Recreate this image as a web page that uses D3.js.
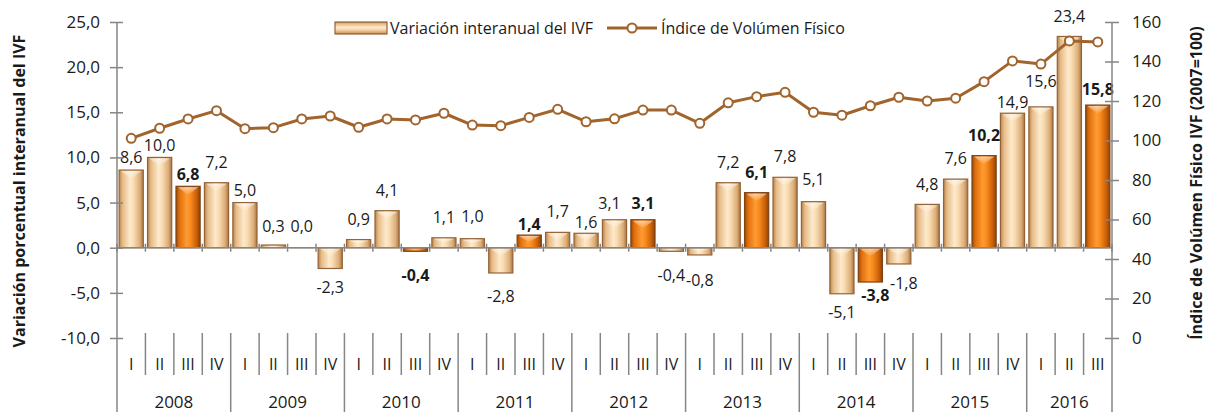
<!DOCTYPE html>
<html>
<head>
<meta charset="utf-8">
<script src="https://cdn.jsdelivr.net/npm/d3@7"></script>
<style>
  body { margin: 0; background: #fff; }
  svg { display: block; font-family: "Open Sans", sans-serif; }
</style>
</head>
<body>
<svg id="chart" width="1211" height="412"></svg>
<script>
// quarters 2008 I .. 2016 III
const periods = [
  "2008 I", "2008 II", "2008 III", "2008 IV",
  "2009 I", "2009 II", "2009 III", "2009 IV",
  "2010 I", "2010 II", "2010 III", "2010 IV",
  "2011 I", "2011 II", "2011 III", "2011 IV",
  "2012 I", "2012 II", "2012 III", "2012 IV",
  "2013 I", "2013 II", "2013 III", "2013 IV",
  "2014 I", "2014 II", "2014 III", "2014 IV",
  "2015 I", "2015 II", "2015 III", "2015 IV",
  "2016 I", "2016 II", "2016 III"
];
const years = ["2008", "2009", "2010", "2011", "2012", "2013", "2014", "2015", "2016"];

// variacion interanual (%)
const variacion = [
  8.6, 10.0, 6.8, 7.2,
  5.0, 0.3, 0.0, -2.3,
  0.9, 4.1, -0.4, 1.1,
  1.0, -2.8, 1.4, 1.7,
  1.6, 3.1, 3.1, -0.4,
  -0.8, 7.2, 6.1, 7.8,
  5.1, -5.1, -3.8, -1.8,
  4.8, 7.6, 10.2, 14.9,
  15.6, 23.4, 15.8
];

// indice de volumen fisico (2007=100)
const ivf = [
  101.1, 106.2, 110.9, 115.1,
  106.0, 106.5, 110.9, 112.4,
  106.7, 110.9, 110.4, 113.8,
  107.8, 107.5, 111.7, 115.8,
  109.5, 111.0, 115.4, 115.4,
  108.7, 119.1, 122.2, 124.4,
  114.3, 112.8, 117.6, 121.9,
  120.0, 121.4, 129.8, 140.3,
  138.7, 150.4, 149.9
];

const leftTicks = [-10, -5, 0, 5, 10, 15, 20, 25];
const rightTicks = [0, 20, 40, 60, 80, 100, 120, 140, 160];

// hand placed data labels, like in the original sheet: index -> [dx, dy]
const labelNudge = {
  0: [0, 8], 1: [0, 9], 2: [0, 9], 4: [0, 8], 5: [0, 2], 6: [0, -1],
  10: [0, 5], 12: [0, -2], 13: [0, 4], 14: [0, 10], 16: [0, 10],
  17: [-5, 4], 18: [0, 4], 19: [0, 5], 20: [0, 6], 24: [0, -2],
  25: [0, -1], 26: [5, -6], 27: [5, 0], 28: [0, 1], 31: [0, 10],
  32: [0, -5], 33: [0, 1], 34: [0, 5]
};

const svg = d3.select("#chart");
const AXIS = "#868686";
const LINE = "#a0642c";
const TEXT = "#1a1a1a";

const plotL = 117, plotR = 1112, plotT = 22, plotB = 338;

const x = d3.scaleBand()
  .domain(d3.range(periods.length))
  .range([plotL, plotR])
  .paddingInner(0.15)
  .paddingOuter(0.075);

const yL = d3.scaleLinear().domain([-10, 25]).range([plotB, plotT]);
const yR = d3.scaleLinear().domain([0, 160]).range([plotB, plotT]);

// excel style: comma decimals, plain hyphen for negatives
const fmt = v => d3.format(".1f")(v).replace(".", ",").replace("\u2212", "-");
const isIII = i => periods[i].split(" ")[1] === "III";
const hot = (d, i) => isIII(i) && d !== 0;

// gradients for the bevelled bars
const defs = svg.append("defs");
function grad(id, stops, vertical) {
  const g = defs.append("linearGradient").attr("id", id)
    .attr("x1", 0).attr("y1", 0)
    .attr("x2", vertical ? 0 : 1).attr("y2", vertical ? 1 : 0);
  stops.forEach(s => g.append("stop").attr("offset", s[0]).attr("stop-color", s[1]));
}
const lightStops = [[0, "#b8834e"], [0.14, "#e6bb87"], [0.45, "#fde9cb"], [0.6, "#f8dcb3"], [0.86, "#dcad77"], [1, "#a87545"]];
const orangeStops = [[0, "#9c4b04"], [0.15, "#e2700c"], [0.45, "#ff9b32"], [0.6, "#f88b1d"], [0.86, "#c85e08"], [1, "#8c4303"]];
grad("gLight", lightStops, false);
grad("gOrange", orangeStops, false);
grad("gLegend", lightStops, true);
// top bevel highlight
const bev = defs.append("linearGradient").attr("id", "gBevel").attr("x1", 0).attr("y1", 0).attr("x2", 0).attr("y2", 1);
bev.append("stop").attr("offset", 0).attr("stop-color", "#fff").attr("stop-opacity", 0.55);
bev.append("stop").attr("offset", 1).attr("stop-color", "#fff").attr("stop-opacity", 0);

// bars
const bars = svg.append("g");
bars.selectAll("rect.bar")
  .data(variacion)
  .join("rect")
  .attr("class", "bar")
  .attr("x", (d, i) => x(i))
  .attr("width", x.bandwidth())
  .attr("y", d => yL(Math.max(0, d)))
  .attr("height", d => Math.max(Math.abs(yL(d) - yL(0)), 0.01))
  .attr("fill", (d, i) => hot(d, i) ? "url(#gOrange)" : "url(#gLight)")
  .attr("stroke", (d, i) => hot(d, i) ? "#7d4418" : "#946438")
  .attr("stroke-width", 1.2);

bars.selectAll("path.bevel")
  .data(variacion)
  .join("path")
  .attr("class", "bevel")
  .attr("fill", "url(#gBevel)")
  .attr("d", (d, i) => {
    const x0 = x(i) + 2, x1 = x(i) + x.bandwidth() - 2;
    const h = Math.abs(yL(d) - yL(0));
    const b = Math.min(8, h / 2);
    const y0 = yL(Math.max(0, d)) + 1;
    const xm = (x0 + x1) / 2;
    return `M${x0},${y0}L${x1},${y0}L${xm},${y0 + b}Z`;
  });

// zero line with category ticks
const zero = svg.append("g").attr("stroke", AXIS).attr("stroke-width", 1.5);
zero.append("line").attr("x1", plotL).attr("x2", plotR).attr("y1", yL(0)).attr("y2", yL(0));
const bounds = d3.range(periods.length + 1).map(i => plotL + i * x.step());
zero.selectAll("line.zt").data(bounds).join("line").attr("class", "zt")
  .attr("x1", d => d).attr("x2", d => d)
  .attr("y1", yL(0) - 4).attr("y2", yL(0) + 4);

// bar labels
svg.append("g").selectAll("text")
  .data(variacion)
  .join("text")
  .attr("x", (d, i) => x(i) + x.bandwidth() / 2 + (labelNudge[i] ? labelNudge[i][0] : 0))
  .attr("y", (d, i) => {
    const n = labelNudge[i] ? labelNudge[i][1] : 0;
    return (d >= 0 ? yL(d) - 15 : yL(d) + 25) + n;
  })
  .attr("text-anchor", "middle")
  .attr("font-size", 16)
  .attr("font-weight", (d, i) => hot(d, i) ? "bold" : "normal")
  .attr("fill", TEXT)
  .text(fmt);

// IVF line
const line = d3.line()
  .x((d, i) => x(i) + x.bandwidth() / 2)
  .y(d => yR(d));
svg.append("path")
  .datum(ivf)
  .attr("d", line)
  .attr("fill", "none")
  .attr("stroke", LINE)
  .attr("stroke-width", 3)
  .attr("stroke-linejoin", "round");
svg.append("g").selectAll("circle")
  .data(ivf)
  .join("circle")
  .attr("cx", (d, i) => x(i) + x.bandwidth() / 2)
  .attr("cy", d => yR(d))
  .attr("r", 4.5)
  .attr("fill", "#fff")
  .attr("stroke", LINE)
  .attr("stroke-width", 2);

// left axis
const gL = svg.append("g").attr("transform", `translate(${plotL},0)`)
  .call(d3.axisLeft(yL).tickValues(leftTicks).tickFormat(fmt).tickSize(7).tickPadding(10));
gL.select(".domain").remove();
gL.selectAll(".tick line").attr("x1", -7).attr("x2", 6).attr("stroke", AXIS).attr("stroke-width", 1.5);
gL.selectAll(".tick text").attr("font-size", 17).attr("fill", TEXT).attr("font-family", "Open Sans");

// right axis
const gR = svg.append("g").attr("transform", `translate(${plotR},0)`)
  .call(d3.axisRight(yR).tickValues(rightTicks).tickSize(7).tickPadding(13));
gR.select(".domain").remove();
gR.selectAll(".tick line").attr("x1", -7).attr("x2", 7).attr("stroke", AXIS).attr("stroke-width", 1.5);
gR.selectAll(".tick text").attr("font-size", 17).attr("fill", TEXT).attr("font-family", "Open Sans");

// axis lines run down through the category area
const axl = svg.append("g").attr("stroke", AXIS).attr("stroke-width", 1.5);
axl.append("line").attr("x1", plotL).attr("x2", plotL).attr("y1", plotT).attr("y2", 412);
axl.append("line").attr("x1", plotR).attr("x2", plotR).attr("y1", plotT).attr("y2", 412);

// category separators
axl.selectAll("line.sep")
  .data(d3.range(1, periods.length))
  .join("line")
  .attr("class", "sep")
  .attr("x1", i => plotL + i * x.step()).attr("x2", i => plotL + i * x.step())
  .attr("y1", 333)
  .attr("y2", i => i % 4 === 0 ? 412 : 375);

// quarter labels
svg.append("g").selectAll("text")
  .data(periods)
  .join("text")
  .attr("x", (d, i) => x(i) + x.bandwidth() / 2)
  .attr("y", 370)
  .attr("text-anchor", "middle")
  .attr("font-size", 16)
  .attr("fill", TEXT)
  .text(d => d.split(" ")[1]);

// year labels
svg.append("g").selectAll("text")
  .data(years)
  .join("text")
  .attr("x", yr => {
    const idx = periods.map((p, i) => [p, i]).filter(p => p[0].startsWith(yr)).map(p => p[1]);
    return plotL + (d3.min(idx) + d3.max(idx) + 1) / 2 * x.step();
  })
  .attr("y", 408)
  .attr("text-anchor", "middle")
  .attr("font-size", 17)
  .attr("fill", TEXT)
  .text(d => d);

// axis titles
svg.append("text")
  .attr("transform", "translate(25,191) rotate(-90)")
  .attr("text-anchor", "middle")
  .attr("font-size", 16)
  .attr("font-weight", "bold")
  .attr("fill", TEXT)
  .text("Variación porcentual interanual del IVF");
svg.append("text")
  .attr("transform", "translate(1202,183) rotate(-90)")
  .attr("text-anchor", "middle")
  .attr("font-size", 16)
  .attr("font-weight", "bold")
  .attr("fill", TEXT)
  .text("Índice de Volúmen Físico IVF (2007=100)");

// legend
const lg = svg.append("g");
lg.append("rect").attr("x", 335).attr("y", 22).attr("width", 52).attr("height", 12)
  .attr("fill", "url(#gLegend)").attr("stroke", "#946438").attr("stroke-width", 1.2);
lg.append("text").attr("x", 390).attr("y", 28).attr("dy", "0.35em")
  .attr("font-size", 16).attr("fill", TEXT).text("Variación interanual del IVF");
lg.append("line").attr("x1", 607).attr("x2", 657).attr("y1", 28).attr("y2", 28)
  .attr("stroke", LINE).attr("stroke-width", 3);
lg.append("circle").attr("cx", 632).attr("cy", 28).attr("r", 4.5)
  .attr("fill", "#fff").attr("stroke", LINE).attr("stroke-width", 2);
lg.append("text").attr("x", 661).attr("y", 28).attr("dy", "0.35em")
  .attr("font-size", 16).attr("fill", TEXT).text("Índice de Volúmen Físico");
</script>
</body>
</html>
